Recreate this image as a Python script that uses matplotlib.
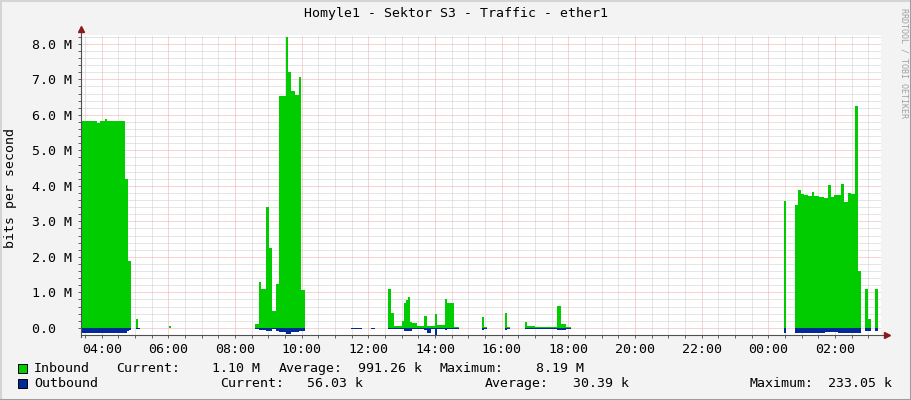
import matplotlib
matplotlib.use('Agg')
import matplotlib.pyplot as plt
from matplotlib.lines import Line2D
from matplotlib.patches import Rectangle
import numpy as np

# time axis in hours since midnight of the first day (26 = 02:00 next day)
t_start = 3.38
t_end = 27.38

# inbound (M bits/s), step values starting at each time
in_t = [3.38, 3.86, 3.95, 4.10, 4.16, 4.70, 4.79, 4.88, 5.03, 5.09, 6.02, 6.07,
        8.59, 8.71, 8.78, 8.92, 9.02, 9.11, 9.23, 9.32, 9.52, 9.58, 9.67, 9.79, 9.91, 9.97, 10.09,
        12.60, 12.69, 12.78, 13.02, 13.08, 13.14, 13.20, 13.26, 13.32, 13.47, 13.68, 13.77,
        14.01, 14.07, 14.31, 14.37, 14.58, 14.73, 15.42, 15.48, 15.57, 16.11, 16.17, 16.26,
        16.71, 16.77, 17.01, 17.67, 17.79, 17.94, 18.09,
        24.48, 24.54, 24.79, 24.88, 24.97, 25.06, 25.18, 25.30, 25.36, 25.51, 25.66, 25.78,
        25.87, 25.96, 26.17, 26.26, 26.38, 26.47, 26.59, 26.70, 26.79, 26.91, 27.00, 27.09,
        27.21, 27.30]
in_v = [5.84, 5.77, 5.84, 5.89, 5.82, 4.20, 1.89, 0.0, 0.25, 0.0, 0.05, 0.0,
        0.10, 1.30, 1.10, 3.40, 2.25, 0.48, 1.24, 6.54, 8.19, 7.20, 6.68, 6.56, 7.07, 1.07, 0.0,
        1.10, 0.42, 0.05, 0.20, 0.70, 0.79, 0.87, 0.17, 0.14, 0.05, 0.34, 0.04,
        0.39, 0.08, 0.82, 0.70, 0.03, 0.0, 0.31, 0.03, 0.0, 0.42, 0.03, 0.0,
        0.17, 0.04, 0.03, 0.62, 0.10, 0.02, 0.0,
        3.58, 0.0, 3.46, 3.89, 3.77, 3.74, 3.72, 3.83, 3.72, 3.69, 3.66, 4.03,
        3.69, 3.74, 4.06, 3.55, 3.80, 3.77, 6.25, 1.60, 0.0, 1.10, 0.25, 0.0,
        1.10, 0.0]

# outbound (drawn negative)
out_t = [3.38, 4.75, 4.82, 4.88, 5.03, 5.15,
         8.59, 8.71, 8.92, 9.11, 9.23, 9.32, 9.52, 9.67, 9.91, 10.09,
         11.49, 11.80, 12.09, 12.21,
         12.60, 12.78, 13.08, 13.32, 13.68, 13.77, 13.89, 14.01, 14.07, 14.31, 14.37, 14.58, 14.73,
         15.42, 15.48, 15.57, 16.11, 16.17, 16.26, 16.71, 17.01, 17.67, 17.94, 18.09,
         24.48, 24.54, 24.79, 25.40, 25.70, 26.10, 26.30, 26.79, 26.91, 27.09, 27.21, 27.30]
out_v = [-0.14, -0.10, -0.05, 0.0, -0.03, 0.0,
         -0.03, -0.05, -0.10, -0.04, -0.08, -0.12, -0.16, -0.12, -0.09, 0.0,
         -0.02, 0.0, -0.02, 0.0,
         -0.03, -0.02, -0.10, -0.03, -0.06, -0.14, -0.02, -0.233, -0.02, -0.06, -0.03, -0.02, 0.0,
         -0.05, -0.02, 0.0, -0.05, -0.02, 0.0, -0.02, -0.02, -0.05, -0.02, 0.0,
         -0.14, 0.0, -0.13, -0.15, -0.12, -0.15, -0.13, 0.0, -0.10, 0.0, -0.10, 0.0]

y_ticks = [0, 1, 2, 3, 4, 5, 6, 7, 8]
y_labels = ['0.0  ', '1.0 M', '2.0 M', '3.0 M', '4.0 M', '5.0 M', '6.0 M', '7.0 M', '8.0 M']
x_ticks = [4, 6, 8, 10, 12, 14, 16, 18, 20, 22, 24, 26]
x_labels = ['04:00', '06:00', '08:00', '10:00', '12:00', '14:00', '16:00', '18:00',
            '20:00', '22:00', '00:00', '02:00']

in_color = '#00CC00'
out_color = '#002A97'

plt.rcParams['font.family'] = ['DejaVu Sans Mono']
fs = 9.5

fig = plt.figure(figsize=(9.11, 4.0), dpi=100, facecolor='#F3F3F3')
W, H = 911.0, 400.0
ax = fig.add_axes([81 / W, 1 - 335 / H, 800 / W, 300 / H])
ax.set_facecolor('white')

ax.fill_between(in_t, 0, in_v, step='post', color=in_color, linewidth=0, zorder=2)
ax.fill_between(out_t, 0, out_v, step='post', color=out_color, linewidth=0, zorder=3)

ax.set_xlim(t_start, t_end)
ax.set_ylim(-0.2, 8.25)

ax.set_xticks(x_ticks)
ax.set_xticklabels(x_labels, fontsize=fs)
ax.set_xticks(np.arange(3.5, 27.5, 0.5), minor=True)
ax.set_yticks(y_ticks)
ax.set_yticklabels(y_labels, fontsize=fs)
ax.set_yticks(np.arange(0, 8.3, 0.2), minor=True)
for lab in ax.get_yticklabels():
    lab.set_ha('left')

ax.tick_params(axis='both', which='both', direction='out', length=2, width=0.7, color='#606060')
ax.tick_params(axis='y', which='major', pad=33)
ax.tick_params(axis='x', which='major', pad=4)

dots = (0, (1, 1))
ax.grid(which='minor', color='#CCCCCC', linestyle=dots, linewidth=0.72, zorder=0)
ax.grid(which='major', color='#F2A8A8', linestyle=dots, linewidth=0.72, zorder=0)
ax.set_axisbelow(True)

for s in ax.spines.values():
    s.set_visible(False)

# axis lines with arrows like rrdtool
ax.plot([0, 0], [-0.005, 1.02], transform=ax.transAxes, color='#505050', lw=0.8, clip_on=False, zorder=5)
ax.plot([0, 1.0075], [0, 0], transform=ax.transAxes, color='#505050', lw=0.8, clip_on=False, zorder=5)
ax.plot([0], [1.02], marker='^', ms=5, color='#8B1A1A', transform=ax.transAxes, clip_on=False, zorder=6)
ax.plot([1.0075], [0], marker='>', ms=5, color='#8B1A1A', transform=ax.transAxes, clip_on=False, zorder=6)

ax.set_ylabel('bits per second', fontsize=fs)
ax.yaxis.set_label_coords(-64 / 800, 0.49)

fig.text(0.5, 1 - 14 / H, 'Homyle1 - Sektor S3 - Traffic - ether1', ha='center', va='center', fontsize=fs)
fig.text(904 / W, 1 - 8 / H, 'RRDTOOL / TOBI OETIKER', rotation=270, ha='center', va='top',
         fontsize=6, color='#A0A0A0')

# legend
def px(x, y):
    return x / W, 1 - y / H

for yy, col in [(368.5, in_color), (383.5, out_color)]:
    fig.patches.append(Rectangle(px(17.5, yy + 4.5), 9 / W, 9 / H, transform=fig.transFigure,
                                 facecolor=col, edgecolor='black', linewidth=0.7))

row1 = [(34, 'Inbound'), (116, 'Current:'), (212, '1.10 M'), (279, 'Average:'),
        (357.5, '991.26 k'), (440, 'Maximum:'), (536, '8.19 M')]
row2 = [(34, 'Outbound'), (220, 'Current:'), (307, '56.03 k'), (485, 'Average:'),
        (573, '30.39 k'), (750, 'Maximum:'), (828, '233.05 k')]
for x, s in row1:
    fig.text(*px(x, 368.5), s, ha='left', va='center', fontsize=fs)
for x, s in row2:
    fig.text(*px(x, 383.5), s, ha='left', va='center', fontsize=fs)

# 3d frame
fig.lines.append(Line2D([0, 0], [0, 1], transform=fig.transFigure, color='#D4D4D4', lw=2.2))
fig.lines.append(Line2D([0, 1], [1, 1], transform=fig.transFigure, color='#D4D4D4', lw=2.2))
fig.lines.append(Line2D([1, 1], [0, 1], transform=fig.transFigure, color='#9E9E9E', lw=2.2))
fig.lines.append(Line2D([0, 1], [0, 0], transform=fig.transFigure, color='#9E9E9E', lw=2.2))

fig.savefig('out.png', dpi=100, facecolor=fig.get_facecolor())
